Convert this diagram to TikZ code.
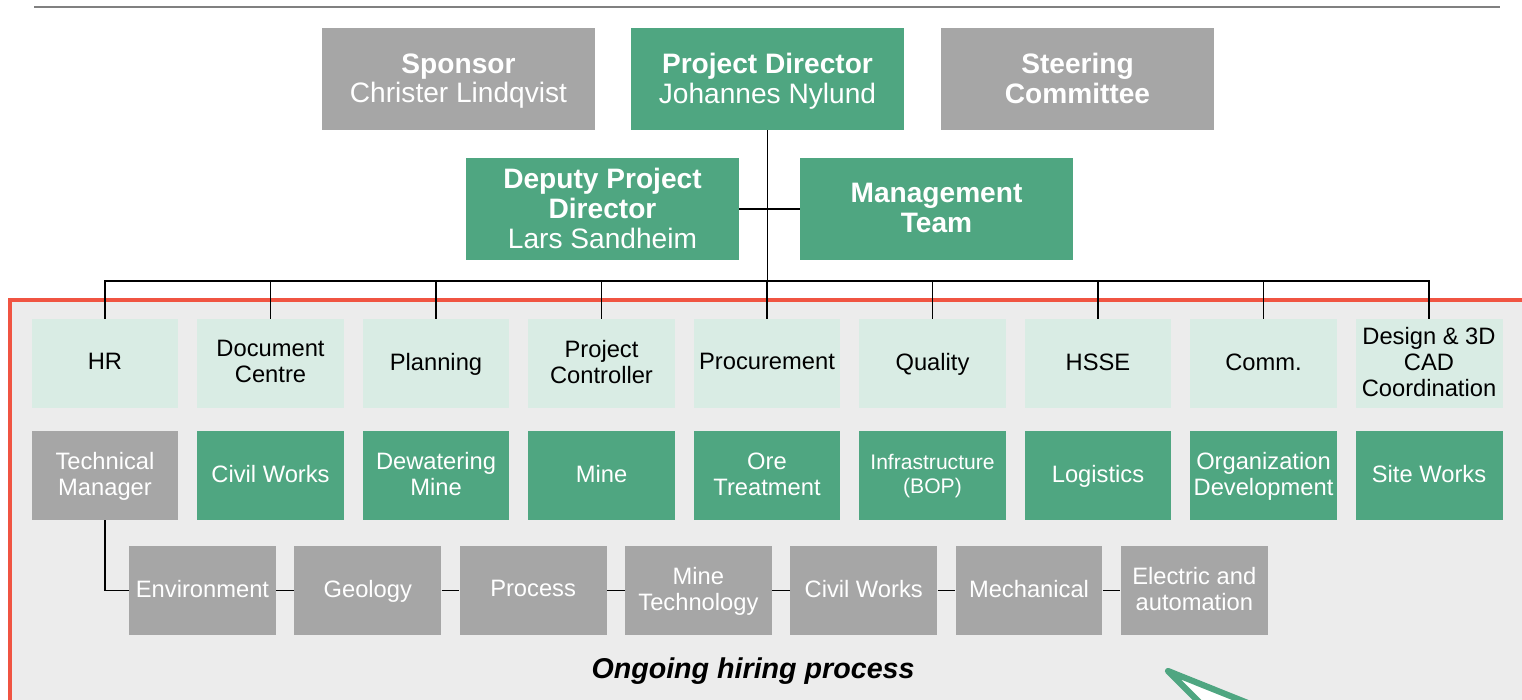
\documentclass[tikz,border=0pt]{standalone}
\usepackage{fontspec}
\setmainfont{Liberation Sans}
\usetikzlibrary{positioning}
\definecolor{orggreen}{RGB}{79,166,129}
\definecolor{orggray}{RGB}{166,166,166}
\definecolor{palegreen}{RGB}{217,236,228}
\definecolor{hirebg}{RGB}{236,236,236}
\definecolor{hirered}{RGB}{240,84,66}

\begin{document}
\begin{tikzpicture}[x=0.02cm,y=-0.02cm]
	\tikzset{
		headbox/.style={minimum width=5.46cm, minimum height=2.04cm, inner sep=0pt, text depth=0.1em, align=center, text=white, font=\fontsize{16}{17}\selectfont},
		funcbox/.style={fill=palegreen, minimum width=2.94cm, minimum height=1.78cm, inner sep=0pt, text depth=0.2em, align=center, font=\fontsize{13.5}{14.8}\selectfont},
		discbox/.style={funcbox, fill=orggreen, text=white},
		discsmall/.style={discbox, font=\fontsize{12}{13.6}\selectfont},
		techbox/.style={funcbox, fill=orggray, text=white},
		link/.style={black, line width=0.8pt}
	}
	\clip (0,0) rectangle (1522,700);
	
	\draw [gray, line width=0.8pt] (34,7) -- (1500,7);
	
	% hiring area
	\draw [hirered, line width=2.3pt, fill=hirebg] (10,300) rectangle (1560,740);
	
	% management
	\node [headbox, fill=orggray] (sponsor) at (458.5,79) {\textbf{Sponsor}\\Christer Lindqvist};
	\node [headbox, fill=orggreen] (director) at (767.5,79) {\textbf{Project Director}\\Johannes Nylund};
	\node [headbox, fill=orggray] (steering) at (1077.5,79) {\textbf{Steering}\\\textbf{Committee}};
	\node [headbox, fill=orggreen] (deputy) at (602.5,209) {\textbf{Deputy Project}\\\textbf{Director}\\Lars Sandheim};
	\node [headbox, fill=orggreen] (mgmt) at (936.5,209) {\textbf{Management}\\\textbf{Team}};
	
	\coordinate (bus) at (767.5,281);
	\draw [link] (director.south) -- (bus);
	\draw [link] (deputy.east) -- (mgmt.west);
	
	% support functions
	\foreach \lbl [count=\i] in {HR, {Document\\Centre}, Planning, {Project\\Controller}, Procurement, Quality, HSSE, Comm., {Design \& 3D\\CAD\\Coordination}}
	{
		\node [funcbox] (func\i) at (105+165.5*\i-165.5,363.5) {\lbl};
		\draw [link] (bus) -| (func\i.north);
	}
	
	% disciplines
	\foreach \lbl/\sty [count=\i] in {{Technical\\Manager}/techbox, Civil Works/discbox, {Dewatering\\Mine}/discbox, Mine/discbox, {Ore\\Treatment}/discbox, {Infrastructure\\(BOP)}/discsmall, Logistics/discbox, {Organization\\Development}/discbox, Site Works/discbox}
	{
		\node [\sty] (disc\i) at (105+165.5*\i-165.5,475.5) {\lbl};
	}
	
	% technical staff
	\foreach \lbl [count=\i] in {Environment, Geology, Process, {Mine\\Technology}, Civil Works, Mechanical, {Electric and\\automation}}
	{
		\node [techbox] (tech\i) at (202.5+165.3*\i-165.3,590.5) {\lbl};
	}
	\draw [link] (disc1.south) |- (tech1.west);
	\foreach \i [evaluate=\i as \j using int(\i+1)] in {1,...,6}
	{
		\draw [link] (tech\i.east) -- (tech\j.west);
	}
	
	\node [font=\fontsize{16.3}{18}\selectfont\bfseries\itshape] (hiring) at (753,671) {Ongoing hiring process};
	
	% callout pointer
	\draw [orggreen, line width=3.5pt, fill=white, line join=round] (1168,671) -- (1330,736) -- (1240,743) -- cycle;
\end{tikzpicture}
\end{document}
